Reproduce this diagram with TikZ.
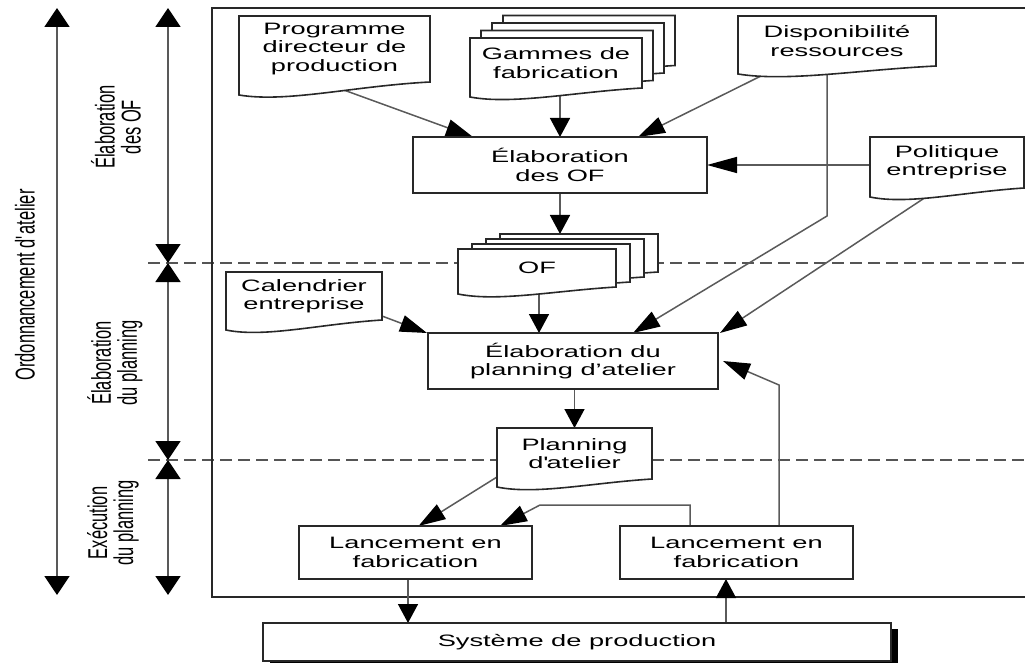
\documentclass[tikz,border=0pt]{standalone}
\usepackage{fontspec}
% wide face for the flow chart, narrow face for the rotated phase labels
\newfontfamily\wfont[FakeStretch=1.65]{Liberation Sans}
\newfontfamily\nfont[FakeStretch=0.606]{Liberation Sans}
\usetikzlibrary{arrows.meta}
\definecolor{inkline}{RGB}{40,40,40}
\definecolor{connline}{RGB}{90,90,90}
\definecolor{dashline}{RGB}{85,85,85}
\pgfdeclarelayer{bg}
\pgfdeclarelayer{mid}
\pgfsetlayers{bg,mid,main}

\tikzset{
  txt/.style={font=\wfont\fontsize{16.5}{18.3}\selectfont, align=center, inner sep=0pt, outer sep=0pt},
  box/.style={txt, draw=inkline, line width=1.8pt, fill=white},
  sheet/.style={draw=inkline, line width=1.6pt, fill=white, line join=miter},
  conn/.style={draw=connline, line width=1.5pt},
  vtip/.style={-{Triangle[length=19pt,width=20pt,color=black]}},
  htip/.style={-{Triangle[length=30pt,width=16pt,color=black]}},
  dtip/.style={-{Triangle[length=27pt,width=17pt,color=black]}},
  sidearr/.style={draw=gray!70!black, line width=2pt,
    {Triangle[length=19pt,width=25pt,color=black]}-{Triangle[length=19pt,width=25pt,color=black]}},
  rotlab/.style={font=\nfont\fontsize{27.2}{26}\selectfont, align=center, rotate=90, inner sep=0pt},
  sepline/.style={draw=dashline, line width=1.5pt, dash pattern=on 12pt off 6pt},
  frameline/.style={draw=inkline, line width=1.8pt},
}

% document sheet with wavy lower edge: left, top, right, right-bottom, left-bottom
\newcommand{\sheetpath}[5]{%
  \filldraw[sheet] (#1,#2) -- (#3,#2) -- (#3,#4)
    .. controls ({#3-0.4*(#3-#1)},{#4+4}) and ({#1+0.25*(#3-#1)},{#5+8}) .. (#1,#5) -- cycle;}

\begin{document}
\begin{tikzpicture}[x=1pt,y=-1pt]
\useasboundingbox (0,0) rectangle (1025,663);
\clip (0,0) rectangle (1025,663);

% ---------- boxes and document texts ----------
\node[txt,minimum width=191,minimum height=66] (pdp) at (334.5,49) {Programme\\directeur de\\production};
\node[txt,minimum width=172,minimum height=50] (gam) at (556,63) {Gammes de\\fabrication};
\node[txt,minimum width=198,minimum height=50] (disp) at (837,41) {Disponibilité\\ressources};
\node[txt,minimum width=154,minimum height=51] (pol) at (947,162.5) {Politique\\entreprise};
\node[txt,minimum width=158,minimum height=38] (of) at (537,268) {OF};
\node[txt,minimum width=156,minimum height=48] (cal) at (304,296) {Calendrier\\entreprise};
\node[txt,minimum width=155,minimum height=51] (plan) at (574.5,453.5) {Planning\\d\textquotesingle{}atelier};

\node[box,minimum width=294,minimum height=56] (eof) at (560,165) {Élaboration\\des OF};
\node[box,minimum width=290,minimum height=56] (epl) at (573,361) {Élaboration du\\planning d’atelier};
\node[box,minimum width=233,minimum height=53] (lan1) at (415.5,552.5) {Lancement en\\fabrication};
\node[box,minimum width=233,minimum height=53] (lan2) at (736.5,552.5) {Lancement en\\fabrication};
\node[box,minimum width=628,minimum height=38] (sys) at (577,642) {Système de production};

% ---------- phase labels ----------
\node[rotlab] (ordo) at (25,285) {Ordonnancement d\textquotesingle{}atelier};
\node[rotlab] (ph1) at (116,127) {Élaboration\\des OF};
\node[rotlab] (ph2) at (115,363) {Élaboration\\du planning};
\node[rotlab] (ph3) at (113,523) {Exécution\\du planning};

% ---------- document sheets ----------
\begin{pgfonlayer}{mid}
  % stack of routings
  \sheetpath{503}{15.5}{675}{65.5}{74.5}
  \sheetpath{492}{23}{664}{73}{82}
  \sheetpath{481}{30.5}{653}{80.5}{89.5}
  \sheetpath{470}{38}{642}{88}{97}
  % stack of manufacturing orders
  \sheetpath{500}{234}{658}{272}{279}
  \sheetpath{486}{239}{644}{277}{284}
  \sheetpath{472}{244}{630}{282}{289}
  \sheetpath{458}{249}{616}{287}{294}
  % single sheets
  \sheetpath{239}{16}{430}{82}{95}
  \sheetpath{738}{16}{936}{66}{74}
  \sheetpath{870}{137}{1024}{188}{197}
  \sheetpath{226}{272}{382}{320}{330}
  \sheetpath{497}{428}{652}{479}{487}
  % shadow of the production system
  \fill[black] (270,629) rectangle (898,668);
\end{pgfonlayer}

% ---------- frame, separators, phase arrows, connectors ----------
\begin{pgfonlayer}{bg}
  \draw[sepline] (148,263) -- (1025,263);
  \draw[sepline] (148,460) -- (1025,460);
  \draw[frameline] (1030,8) -- (212,8) -- (212,597) -- (1030,597);

  \coordinate (s-top) at (57,8);
  \coordinate (s-bot) at (57,595);
  \draw[sidearr] (s-top) -- (s-bot);
  \coordinate (p0) at (168,8);
  \coordinate (p1) at (168,263);
  \coordinate (p2) at (168,460);
  \coordinate (p3) at (168,595);
  \draw[sidearr] (p0) -- (p1);
  \draw[sidearr] (p1) -- (p2);
  \draw[sidearr] (p2) -- (p3);

  \coordinate (pdp-o) at (341,89);
  \draw[conn,dtip] (pdp-o) -- ([xshift=60pt]eof.north west);
  \coordinate (gam-o) at (560,92);
  \draw[conn,vtip] (gam-o) -- (gam-o |- eof.north);
  \coordinate (disp-o1) at (767,73);
  \draw[conn,dtip] (disp-o1) -- ([xshift=-69pt]eof.north east);
  \coordinate (disp-o2) at (827,70);
  \coordinate (disp-bend) at (827,216);
  \draw[conn,dtip] (disp-o2) -- (disp-bend) -- ([xshift=-85pt]epl.north east);
  \draw[conn,htip] (eof.east -| pol.west) -- (eof.east);
  \coordinate (pol-o) at (926,197);
  \draw[conn,dtip] (pol-o) -- ([xshift=2pt]epl.north east);
  \coordinate (ofs-top) at (560,234);
  \draw[conn,vtip] (eof.south) -- (ofs-top);
  \coordinate (of-o) at (539,292);
  \draw[conn,vtip] (of-o) -- (of-o |- epl.north);
  \coordinate (cal-o) at (378,314.5);
  \draw[conn,dtip] (cal-o) -- ([xshift=-1pt]epl.north west);
  \draw[conn,vtip] (epl.south -| plan.north) -- (plan.north);
  \coordinate (plan-o) at (501,474.5);
  \draw[conn,dtip] (plan-o) -- ([xshift=3pt]lan1.north);
  \coordinate (l2-a) at ([xshift=-46.5pt]lan2.north);
  \coordinate (ret-bend) at (540,505);
  \draw[conn,dtip] (l2-a) |- (ret-bend) -- ([xshift=-32pt]lan1.north east);
  \coordinate (l2-b) at ([xshift=42.5pt]lan2.north);
  \coordinate (fb-bend) at (779,385);
  \draw[conn,dtip] (l2-b) -- (fb-bend) -- ([xshift=5pt]epl.east);
  \coordinate (l1-out) at ([xshift=-7.5pt]lan1.south);
  \draw[conn,vtip] (l1-out) -- (l1-out |- sys.north);
  \coordinate (sys-up) at ([xshift=149pt]sys.north);
  \draw[conn,vtip] (sys-up) -- (sys-up |- lan2.south);
\end{pgfonlayer}
\end{tikzpicture}
\end{document}
